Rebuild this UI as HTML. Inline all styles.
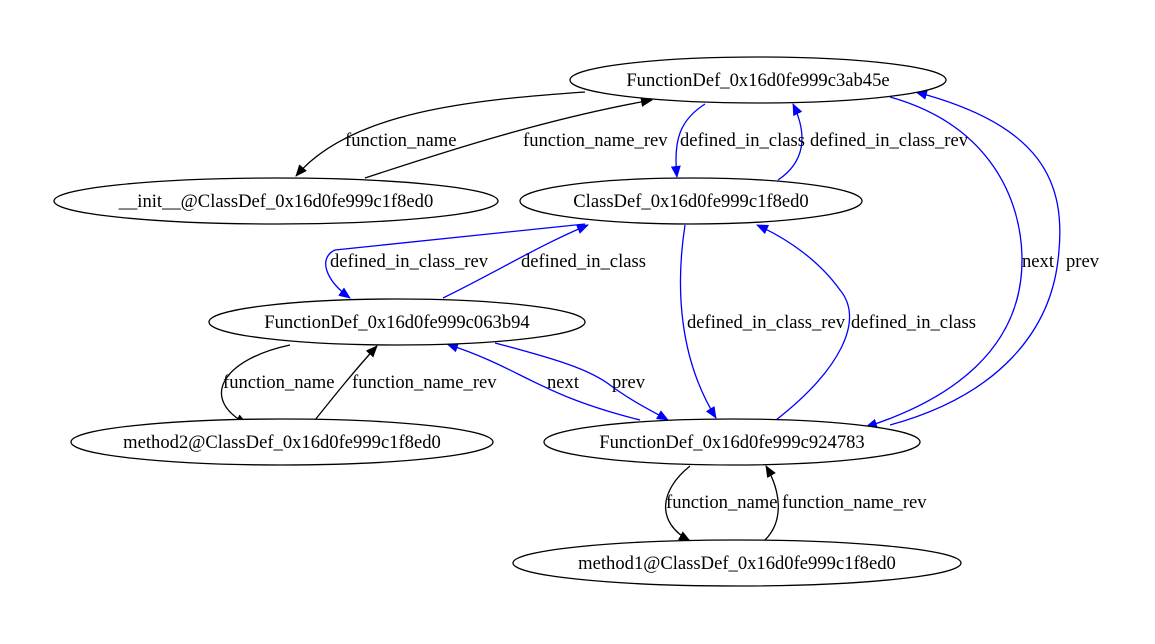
<!DOCTYPE html>
<html><head><meta charset="utf-8"><style>
html,body{margin:0;padding:0;background:#fff;width:1155px;height:644px;overflow:hidden}
text{font-family:"Liberation Serif",serif;font-size:18.6px;fill:#000}
</style></head><body>
<svg width="1155" height="644" viewBox="0 0 1155 644" xmlns="http://www.w3.org/2000/svg">
<defs>
<marker id="ak" markerWidth="12" markerHeight="10" refX="11" refY="5" orient="auto" markerUnits="userSpaceOnUse"><path d="M0,0 L12,5 L0,10 Z" fill="#000"/></marker>
<marker id="ab" markerWidth="12" markerHeight="10" refX="11" refY="5" orient="auto" markerUnits="userSpaceOnUse"><path d="M0,0 L12,5 L0,10 Z" fill="#00f"/></marker>
</defs>
<g fill="none" stroke-width="1.3">
<path d="M585,92 C470,100 350,112 296,176" stroke="#000" marker-end="url(#ak)"/>
<path d="M365,178 C450,150 550,118 652,100" stroke="#000" marker-end="url(#ak)"/>
<path d="M290,345 C220,360 200,400 247,424" stroke="#000" marker-end="url(#ak)"/>
<path d="M315,420 C335,395 355,370 377,346" stroke="#000" marker-end="url(#ak)"/>
<path d="M690,466 C660,490 655,522 690,541" stroke="#000" marker-end="url(#ak)"/>
<path d="M765,540 C785,520 780,490 766,466" stroke="#000" marker-end="url(#ak)"/>
<path d="M705,104 C680,120 673,140 677,177" stroke="#00f" marker-end="url(#ab)"/>
<path d="M778,180 C805,162 808,135 793,104" stroke="#00f" marker-end="url(#ab)"/>
<path d="M890,97 C990,125 1022,200 1022,260 C1022,350 950,400 866,427" stroke="#00f" marker-end="url(#ab)"/>
<path d="M890,425 C1000,395 1050,330 1058,260 C1068,180 1040,125 916,92" stroke="#00f" marker-end="url(#ab)"/>
<path d="M585,224 L335,250 C318,258 325,280 350,298" stroke="#00f" marker-end="url(#ab)"/>
<path d="M443,298 C500,270 540,245 588,225" stroke="#00f" marker-end="url(#ab)"/>
<path d="M685,225 C675,290 680,360 716,418" stroke="#00f" marker-end="url(#ab)"/>
<path d="M776,420 C840,370 865,320 840,290 C820,262 790,240 757,225" stroke="#00f" marker-end="url(#ab)"/>
<path d="M640,420 C580,405 550,390 520,375 C500,365 480,355 447,344" stroke="#00f" marker-end="url(#ab)"/>
<path d="M495,343 C560,360 590,370 610,385 C630,400 650,410 668,420" stroke="#00f" marker-end="url(#ab)"/>
</g>
<g fill="#fff" stroke="#000" stroke-width="1.3">
<ellipse cx="758" cy="80" rx="188" ry="23"/>
<ellipse cx="276" cy="201" rx="222" ry="23"/>
<ellipse cx="691" cy="201" rx="171" ry="23"/>
<ellipse cx="397" cy="322" rx="188" ry="23"/>
<ellipse cx="282" cy="442" rx="211" ry="23"/>
<ellipse cx="732" cy="442" rx="188" ry="23"/>
<ellipse cx="737" cy="563" rx="224" ry="23"/>
</g>
<g text-anchor="middle">
<text x="758" y="86">FunctionDef_0x16d0fe999c3ab45e</text>
<text x="276" y="207">__init__@ClassDef_0x16d0fe999c1f8ed0</text>
<text x="691" y="207">ClassDef_0x16d0fe999c1f8ed0</text>
<text x="397" y="328">FunctionDef_0x16d0fe999c063b94</text>
<text x="282" y="448">method2@ClassDef_0x16d0fe999c1f8ed0</text>
<text x="732" y="448">FunctionDef_0x16d0fe999c924783</text>
<text x="737" y="569">method1@ClassDef_0x16d0fe999c1f8ed0</text>
</g>
<g>
<text x="345" y="146">function_name</text>
<text x="523" y="146">function_name_rev</text>
<text x="680" y="146">defined_in_class</text>
<text x="810" y="146">defined_in_class_rev</text>
<text x="330" y="267">defined_in_class_rev</text>
<text x="521" y="267">defined_in_class</text>
<text x="1022" y="267">next</text>
<text x="1066" y="267">prev</text>
<text x="687" y="328">defined_in_class_rev</text>
<text x="851" y="328">defined_in_class</text>
<text x="223" y="388">function_name</text>
<text x="352" y="388">function_name_rev</text>
<text x="547" y="388">next</text>
<text x="612" y="388">prev</text>
<text x="666" y="508">function_name</text>
<text x="782" y="508">function_name_rev</text>
</g>
</svg>
</body></html>
